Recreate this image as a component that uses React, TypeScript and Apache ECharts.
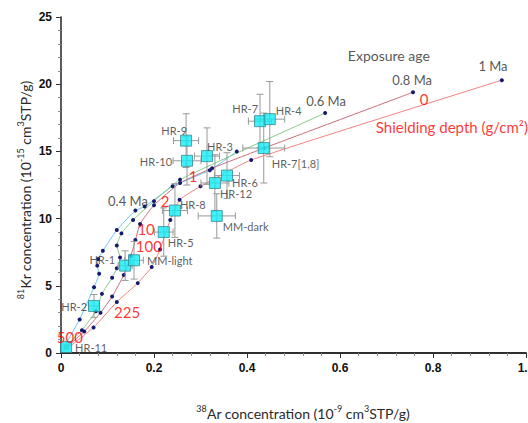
import React, { useEffect, useRef } from "react";
import * as echarts from "echarts";

// ---- Sample data (38Ar, 81Kr) ----
const sampleNames = ["HR-11", "HR-2", "HR-1", "MM-light", "HR-5", "HR-8", "MM-dark", "HR-9", "HR-10", "HR-3", "HR-12", "HR-6", "HR-7", "HR-4", "HR-7[1,8]"];
const sampleAr = [0.011, 0.071, 0.138, 0.157, 0.221, 0.245, 0.335, 0.269, 0.271, 0.314, 0.331, 0.357, 0.428, 0.449, 0.436];
const sampleKr = [0.45, 3.5, 6.5, 6.9, 9.0, 10.6, 10.2, 15.8, 14.3, 14.65, 12.65, 13.2, 17.25, 17.4, 15.25];
const sampleArErr = [0.004, 0.012, 0.015, 0.02, 0.02, 0.027, 0.04, 0.027, 0.03, 0.027, 0.03, 0.027, 0.025, 0.032, 0.045];
const sampleKrErr = [0.15, 0.85, 1.1, 1.4, 1.8, 2.0, 1.65, 2.0, 1.8, 2.1, 2.1, 1.7, 2.0, 2.8, 2.6];

// label placement (style only): [align, dx, dy]
const sampleLabelPlace: [string, number, number][] = [
  ["left", 9, 1], ["right", -7, 1], ["right", -10, -6], ["left", 13, 0], ["left", 4, 10],
  ["left", 5, -6], ["left", 6, 11], ["right", 1, -10], ["right", -15, 1], ["left", 0, -10],
  ["left", 5, 11], ["left", 5, 7], ["right", -2, -13], ["left", 6, -9], ["left", 8, 15],
];

// ---- Model curves (exposure age), from zero shielding towards deep shielding ----
const age04 = [[0.378, 15.0], [0.32, 13.6], [0.24, 12.4], [0.18, 10.9], [0.16, 10.6], [0.12, 9.15], [0.09, 7.6], [0.08, 7.0], [0.078, 6.5], [0.082, 5.9], [0.071, 4.9], [0.04, 2.5], [0.004, 0.3]];
const age06 = [[0.568, 17.85], [0.256, 12.9], [0.2, 11.3], [0.155, 9.9], [0.13, 8.9], [0.12, 8.0], [0.127, 7.1], [0.12, 6.3], [0.11, 5.6], [0.088, 4.4], [0.075, 3.1], [0.045, 1.7], [0.006, 0.3]];
const age08 = [[0.757, 19.4], [0.437, 15.25], [0.325, 13.75], [0.256, 12.65], [0.2, 11.0], [0.17, 9.6], [0.16, 8.4], [0.15, 7.2], [0.135, 5.8], [0.11, 4.2], [0.085, 3.0], [0.05, 1.6], [0.008, 0.3]];
const age10 = [[0.948, 20.3], [0.409, 14.36], [0.3, 12.4], [0.255, 11.4], [0.235, 9.9], [0.213, 7.7], [0.195, 6.4], [0.165, 5.2], [0.12, 3.8], [0.07, 1.9], [0.012, 0.3]];

// ---- Annotations ----
const ageLabels = ["0.4 Ma", "0.6 Ma", "0.8 Ma", "1 Ma", "Exposure age"];
const ageLabelPos = [[0.144, 11.3], [0.57, 18.75], [0.755, 20.3], [0.929, 21.35], [0.705, 22.1]];
const depthLabels = ["0", "1", "2", "10", "100", "225", "500"];
const depthLabelPos = [[0.781, 18.9], [0.284, 13.17], [0.224, 11.31], [0.183, 9.23], [0.189, 7.96], [0.142, 3.05], [0.019, 1.19]];
const depthTitle = "Shielding depth (g/cm²)";
const depthTitlePos = [0.677, 16.8];

const xTicks = { min: 0, max: 1.0, interval: 0.2 };
const yTicks = { min: 0, max: 25, interval: 5 };

const DOT = "#141a70";
const TXT = "#333333";
const RED = "#ff0000";
const CLEAR = "rgba(0,0,0,0)";

function curveSeries(name: string, pts: number[][], color: string) {
  return {
    type: "line",
    name,
    data: pts.map((p, i) => (i === pts.length - 1 ? { value: p, symbol: "none" } : { value: p })),
    symbol: "circle",
    symbolSize: 4,
    showSymbol: true,
    smooth: 0.15,
    itemStyle: { color: DOT },
    lineStyle: { color, width: 1 },
    silent: true,
    z: 2,
  };
}

export default function App() {
  const ref = useRef<HTMLDivElement>(null);
  useEffect(() => {
    if (!ref.current) return;
    const chart = echarts.init(ref.current, undefined, { renderer: "svg" });
    const errData = sampleNames.map((n, i) => [sampleAr[i], sampleKr[i], sampleArErr[i], sampleKrErr[i]]);
    const sqData = sampleNames.map((n, i) => ({
      value: [sampleAr[i], sampleKr[i]],
      name: n,
      label: {
        show: true,
        position: "inside",
        align: sampleLabelPlace[i][0],
        verticalAlign: "middle",
        offset: [sampleLabelPlace[i][1], sampleLabelPlace[i][2]],
        formatter: n,
        color: TXT,
        fontFamily: "Lato",
        fontSize: 11,
      },
    }));
    const ageData: any[] = ageLabels.map((t, i) => ({
      value: ageLabelPos[i],
      name: t,
      label: {
        show: true, position: "inside", formatter: t, color: "#2a2a2a", fontFamily: "Lato",
        fontSize: t === "Exposure age" ? 14 : 13,
      },
    }));
    const depthData: any[] = depthLabels.map((t, i) => ({
      value: depthLabelPos[i],
      name: t,
      label: { show: true, position: "inside", formatter: t, color: RED, fontFamily: "Lato", fontSize: 15 },
    }));
    depthData.push({
      value: depthTitlePos,
      name: depthTitle,
      label: { show: true, position: "inside", align: "left", formatter: depthTitle, color: RED, fontFamily: "Lato", fontSize: 15 },
    });

    const axisLabelStyle = { color: "#111", fontFamily: "Liberation Sans", fontWeight: "bold", fontSize: 12 };

    const option: any = {
      animation: false,
      backgroundColor: "#fff",
      grid: { left: 61, top: 17, right: 2, bottom: 70, containLabel: false, outerBoundsMode: "none" },
      xAxis: [
        {
          type: "value", min: xTicks.min, max: xTicks.max, interval: xTicks.interval,
          axisLine: { show: true, onZero: false, lineStyle: { color: "#222", width: 1.5 } },
          axisTick: { show: true, inside: false, length: 5, lineStyle: { color: "#333" } },
          minorTick: { show: true, splitNumber: 5, length: 3, lineStyle: { color: "#888" } },
          splitLine: { show: false },
          axisLabel: { ...axisLabelStyle, margin: 9, hideOverlap: false, formatter: (v: number) => (v === 0 ? "0" : v.toFixed(1)) },
        },
        {
          type: "value", position: "top", min: xTicks.min, max: xTicks.max,
          axisLine: { show: true, lineStyle: { color: "#222", width: 1.5 } },
          axisTick: { show: false }, axisLabel: { show: false }, splitLine: { show: false },
        },
      ],
      yAxis: {
        type: "value", min: yTicks.min, max: yTicks.max, interval: yTicks.interval,
        axisLine: { show: true, onZero: false, lineStyle: { color: "#222", width: 1.5 } },
        axisTick: { show: true, inside: false, length: 5, lineStyle: { color: "#333" } },
        minorTick: { show: true, splitNumber: 5, length: 3, lineStyle: { color: "#888" } },
        splitLine: { show: false },
        axisLabel: { ...axisLabelStyle, margin: 9 },
      },
      graphic: [
        {
          type: "text", x: 25, y: 190, rotation: Math.PI / 2,
          style: {
            text: "{s|81}{n|Kr concentration (10}{s|-15}{n| cm}{s|3}{n|STP/g)}",
            align: "center", verticalAlign: "middle",
            rich: {
              n: { fontSize: 14, fontFamily: "Lato", fill: "#2a2a2a", lineHeight: 18 },
              s: { fontSize: 9, fontFamily: "Lato", fill: "#2a2a2a", lineHeight: 11, verticalAlign: "top" },
            },
          },
        },
        {
          type: "text", x: 303, y: 413,
          style: {
            text: "{s|38}{n|Ar concentration (10}{s|-9}{n| cm}{s|3}{n|STP/g)}",
            align: "center", verticalAlign: "middle",
            rich: {
              n: { fontSize: 14, fontFamily: "Lato", fill: "#2a2a2a", lineHeight: 18 },
              s: { fontSize: 9, fontFamily: "Lato", fill: "#2a2a2a", lineHeight: 11, verticalAlign: "top" },
            },
          },
        },
      ],
      series: [
        curveSeries("0.4 Ma", age04, "#6cc6f0"),
        curveSeries("0.6 Ma", age06, "#86cc86"),
        curveSeries("0.8 Ma", age08, "#c86e7c"),
        curveSeries("1 Ma", age10, "#f58080"),
        {
          type: "custom",
          name: "errors",
          data: errData,
          silent: true,
          z: 3,
          renderItem: (params: any, api: any) => {
            const x = api.value(0), y = api.value(1), ex = api.value(2), ey = api.value(3);
            const c = api.coord([x, y]);
            const l = api.coord([x - ex, y]);
            const r = api.coord([x + ex, y]);
            const t = api.coord([x, y + ey]);
            const b = api.coord([x, y - ey]);
            const cap = 3.5;
            const style = { stroke: "#999999", lineWidth: 1 };
            return {
              type: "group",
              children: [
                { type: "line", shape: { x1: l[0], y1: c[1], x2: r[0], y2: c[1] }, style },
                { type: "line", shape: { x1: c[0], y1: t[1], x2: c[0], y2: b[1] }, style },
                { type: "line", shape: { x1: l[0], y1: c[1] - cap, x2: l[0], y2: c[1] + cap }, style },
                { type: "line", shape: { x1: r[0], y1: c[1] - cap, x2: r[0], y2: c[1] + cap }, style },
                { type: "line", shape: { x1: c[0] - cap, y1: t[1], x2: c[0] + cap, y2: t[1] }, style },
                { type: "line", shape: { x1: c[0] - cap, y1: b[1], x2: c[0] + cap, y2: b[1] }, style },
              ],
            };
          },
        },
        {
          type: "scatter",
          name: "samples",
          data: sqData,
          symbol: "rect",
          symbolSize: 11,
          itemStyle: { color: "#12eef5", borderColor: "#3c8a92", borderWidth: 1 },
          silent: true,
          z: 4,
        },
        {
          type: "scatter",
          name: "ageLabels",
          data: ageData,
          symbolSize: 1,
          itemStyle: { color: CLEAR },
          silent: true,
          z: 5,
        },
        {
          type: "scatter",
          name: "depthLabels",
          data: depthData,
          symbolSize: 1,
          itemStyle: { color: CLEAR },
          silent: true,
          z: 5,
        },
      ],
    };
    chart.setOption(option);
    return () => chart.dispose();
  }, []);
  return (
    <div
      ref={ref}
      style={{ position: "absolute", left: 0, top: 0, width: 528, height: 423, overflow: "hidden", background: "#fff" }}
    />
  );
}
